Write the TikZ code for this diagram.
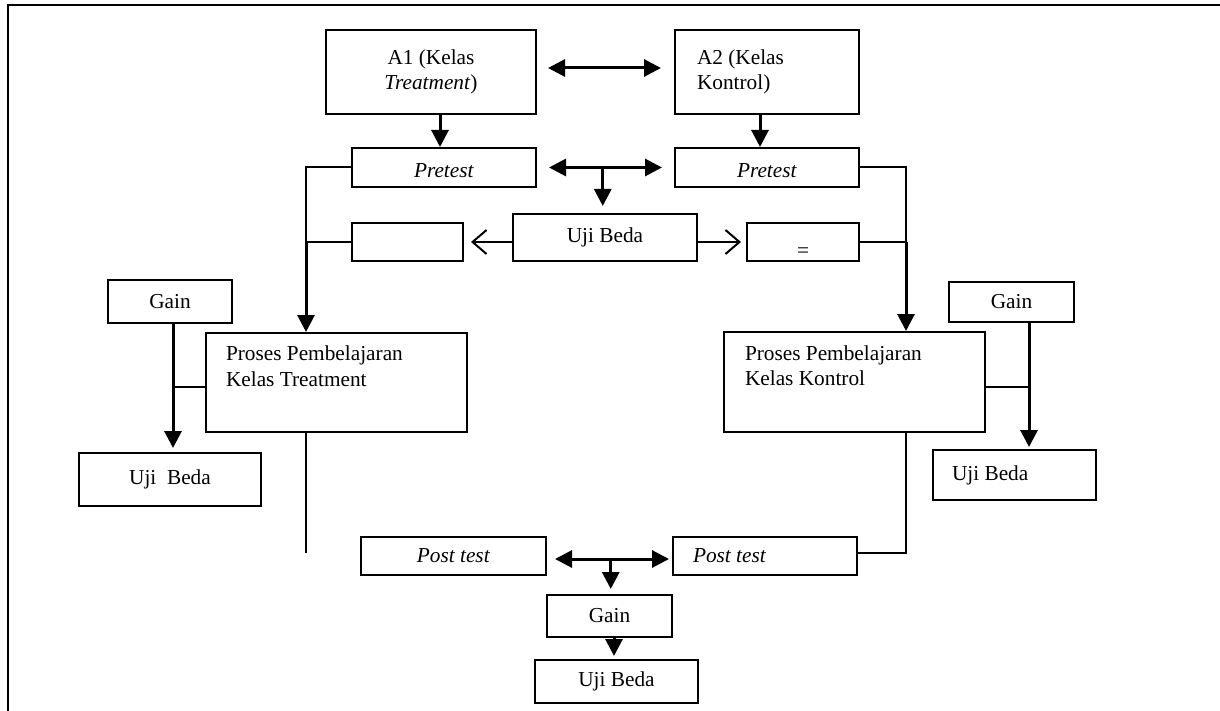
\documentclass[tikz,border=0pt]{standalone}
\usepackage{fontspec}
\setmainfont{Liberation Serif}
\usetikzlibrary{arrows.meta,calc}
\begin{document}
\begin{tikzpicture}[x=1pt,y=-1pt,
  every node/.style={font=\fontsize{21.3pt}{25.5pt}\selectfont},
  box/.style={draw, line width=2pt, inner sep=0pt, align=center},
  lbox/.style={box, align=flush left},
  arr/.style={line width=3pt, -{Triangle[length=17pt,width=17pt]}},
  dbl/.style={line width=3pt, {Triangle[length=17pt,width=17pt]}-{Triangle[length=17pt,width=17pt]}},
  openarr/.style={line width=2pt, -{Straight Barb[length=14pt,width=24pt]}},
  link/.style={line width=2pt}]
\useasboundingbox (0,0) rectangle (1220,711);
\draw[line width=2.4pt] (8,711) -- (8,5) -- (1220,5);

\node[box, minimum width=210pt, minimum height=84pt] (A1) at (431,72) {A1 (Kelas\\\textit{Treatment})};
\node[lbox, minimum width=184pt, minimum height=84pt, text width=140pt] (A2) at (767,72) {A2 (Kelas\\Kontrol)};
\node[box, minimum width=184pt, minimum height=39pt] (PreL) at (444,167.5) {\raisebox{-10pt}[0pt][0pt]{\textit{Pretest}}};
\node[box, minimum width=184pt, minimum height=39pt] (PreR) at (767,167.5) {\raisebox{-10pt}[0pt][0pt]{\textit{Pretest}}};
\node[box, minimum width=184pt, minimum height=47pt] (UjiC) at (605,237.5) {Uji Beda};
\node[box, minimum width=111pt, minimum height=38pt] (BlankL) at (407.5,242) {};
\node[box, minimum width=112pt, minimum height=38pt] (Eq) at (803,242) {\raisebox{-16pt}[0pt][0pt]{=}};
\node[box, minimum width=124pt, minimum height=43pt] (GainL) at (170,301.5) {Gain};
\node[lbox, minimum width=261pt, minimum height=99pt, text width=221pt] (ProsesT) at (336.5,382.5) {Proses Pembelajaran\\Kelas Treatment\\\strut};
\node[box, minimum width=182pt, minimum height=53pt] (UjiL) at (170,479.5) {Uji\ \ Beda};
\node[lbox, minimum width=261pt, minimum height=100pt, text width=219pt] (ProsesK) at (854.5,382) {Proses Pembelajaran\\Kelas Kontrol\\\strut};
\node[box, minimum width=125pt, minimum height=40pt] (GainR) at (1011.5,302) {Gain};
\node[lbox, minimum width=163pt, minimum height=50pt, text width=125pt] (UjiR) at (1014.5,475) {Uji Beda};
\node[box, minimum width=185pt, minimum height=38pt] (PostL) at (453.5,556) {\textit{Post test}};
\node[lbox, minimum width=184pt, minimum height=38pt, text width=144pt] (PostR) at (765,556) {\textit{Post test}};
\node[box, minimum width=125pt, minimum height=42pt] (GainB) at (609.5,616) {Gain};
\node[box, minimum width=163pt, minimum height=43pt] (UjiB) at (616.5,681.5) {Uji Beda};

\coordinate (L1) at (306,0);
\coordinate (L2) at (173,0);
\coordinate (R1) at (906,0);
\coordinate (R2) at (1029,0);
\coordinate (E1) at (306,553);

% top
\draw[dbl, shorten <=11pt, shorten >=13pt] ([yshift=4pt]A1.east) -- ([yshift=4pt]A2.west);
\draw[arr] ([xshift=9pt]A1.south) -- ([xshift=-4pt]PreL.north);
\draw[arr] ([xshift=-7pt]A2.south) -- ([xshift=-7pt]PreR.north);
\draw[dbl, shorten <=12pt, shorten >=12pt] (PreL.east) -- (PreR.west);
\coordinate (M1) at ($(PreL.east)!0.48!(PreR.west)$);
\draw[arr, shorten >=7pt] (M1) -- (M1 |- UjiC.north);
\draw[openarr, shorten >=7pt] (UjiC.west |- BlankL.east) -- (BlankL.east);
\draw[openarr, shorten >=5pt] (UjiC.east |- Eq.west) -- (Eq.west);

% left branch
\draw[link] (PreL.west) -- (PreL.west -| L1) -- (BlankL.west -| L1);
\draw[link] (BlankL.west) -- (BlankL.west -| L1);
\draw[arr] (BlankL.west -| L1) -- (ProsesT.north -| L1);
\draw[arr, shorten >=4pt] (GainL.south -| L2) -- (UjiL.north -| L2);
\draw[link] ([yshift=-4.5pt]ProsesT.west) -- ([yshift=-4.5pt]ProsesT.west -| L2);
\draw[link] (ProsesT.south -| L1) -- (E1);

% right branch
\draw[link] (PreR.east) -- (PreR.east -| R1) -- (Eq.east -| R1);
\draw[link] (Eq.east) -- (Eq.east -| R1);
\draw[arr] (Eq.east -| R1) -- (ProsesK.north -| R1);
\draw[arr, shorten >=2pt] (GainR.south -| R2) -- (UjiR.north -| R2);
\draw[link] ([yshift=-5pt]ProsesK.east) -- ([yshift=-5pt]ProsesK.east -| R2);
\draw[link] (ProsesK.south -| R1) -- ([yshift=3pt]PostR.east -| R1) -- ([yshift=3pt]PostR.east);

% bottom
\draw[dbl, shorten <=8pt, shorten >=3pt] ([yshift=-3pt]PostL.east) -- ([yshift=-3pt]PostR.west);
\coordinate (M2) at ($([yshift=-3pt]PostL.east)!0.51!([yshift=-3pt]PostR.west)$);
\draw[arr, shorten >=5pt] (M2) -- (M2 |- GainB.north);
\draw[arr, shorten >=3pt] ([xshift=4.5pt]GainB.south) -- ([xshift=4.5pt]GainB.south |- UjiB.north);
\end{tikzpicture}
\end{document}
